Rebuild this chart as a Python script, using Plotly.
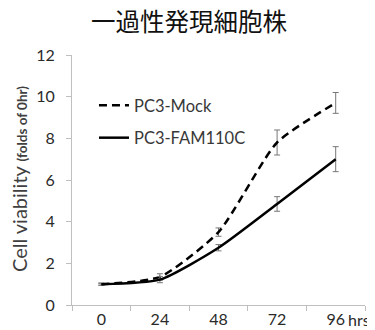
import plotly.graph_objects as go

hours = ["0", "24", "48", "72", "96"]
mock = [1.0, 1.35, 3.5, 7.8, 9.7]
mock_err = [0.05, 0.15, 0.2, 0.6, 0.5]
fam = [1.0, 1.22, 2.75, 4.85, 7.0]
fam_err = [0.05, 0.15, 0.15, 0.35, 0.6]

# page body has an 8px margin, so the figure is sized to the visible area
W, H = 367, 322
L, T = 64, 47
PW, PH = 293, 250

fig = go.Figure()
fig.add_trace(go.Scatter(
    x=hours, y=mock, name="PC3-Mock", mode="lines", legendgroup="a",
    line=dict(color="black", width=2.5, dash="8px,5px", shape="spline", smoothing=0.6),
    error_y=dict(type="data", array=mock_err, color="#777777", thickness=1, width=3),
))
fig.add_trace(go.Scatter(
    x=hours, y=fam, name="PC3-FAM110C", mode="lines", legendgroup="b",
    line=dict(color="black", width=2.5, shape="spline", smoothing=0.6),
    error_y=dict(type="data", array=fam_err, color="#777777", thickness=1, width=3),
))

fig.update_layout(
    width=W, height=H,
    margin=dict(l=L, r=W - L - PW, t=T, b=H - T - PH, autoexpand=False),
    paper_bgcolor="white", plot_bgcolor="white",
    font=dict(family="Lato, 'Open Sans', sans-serif", color="#333333"),
    title=dict(text="一過性発現細胞株", x=181 / W, xanchor="center", y=1 - 14 / H, yanchor="middle",
               font=dict(family="'Noto Sans CJK JP'", size=24.5, color="#111111")),
    showlegend=True,
    legend=dict(x=0.075, y=0.734, xanchor="left", yanchor="middle", bgcolor="rgba(0,0,0,0)",
                itemwidth=30, tracegroupgap=8, font=dict(size=16.5, color="#383838")),
    xaxis=dict(
        type="category", range=[-0.5, 4.5], tickvals=hours, ticktext=["0", "24", "48", "72", "96"],
        showline=True, linecolor="#bfbfbf", linewidth=1, ticks="outside", tickson="boundaries",
        ticklen=5, tickcolor="#bfbfbf", showgrid=False, tickfont=dict(size=16, color="#2a2a2a"),
    ),
    yaxis=dict(
        range=[0, 12], tickvals=[0, 2, 4, 6, 8, 10, 12], showline=True, linecolor="#bfbfbf",
        linewidth=1, ticks="outside", ticklen=5, tickcolor="#bfbfbf", showgrid=False,
        zeroline=False, tickfont=dict(size=16, color="#2a2a2a"), ticklabelstandoff=8,
    ),
)
fig.add_annotation(x=0.936, y=0, xref="paper", yref="paper", xanchor="left",
                   yanchor="middle", yshift=-14, text="hrs", showarrow=False,
                   font=dict(size=16, color="#2a2a2a"))
fig.add_annotation(x=(19 - 72) / PW, y=(305 - 179) / PH, xref="paper", yref="paper",
                   xanchor="center", yanchor="middle", textangle=-90, showarrow=False,
                   borderpad=0,
                   text="Cell viability <span style='font-size:13.5px;font-weight:bold'>(folds of 0hr)</span>",
                   font=dict(size=20, color="#404040"))
fig.write_html("out.html")
